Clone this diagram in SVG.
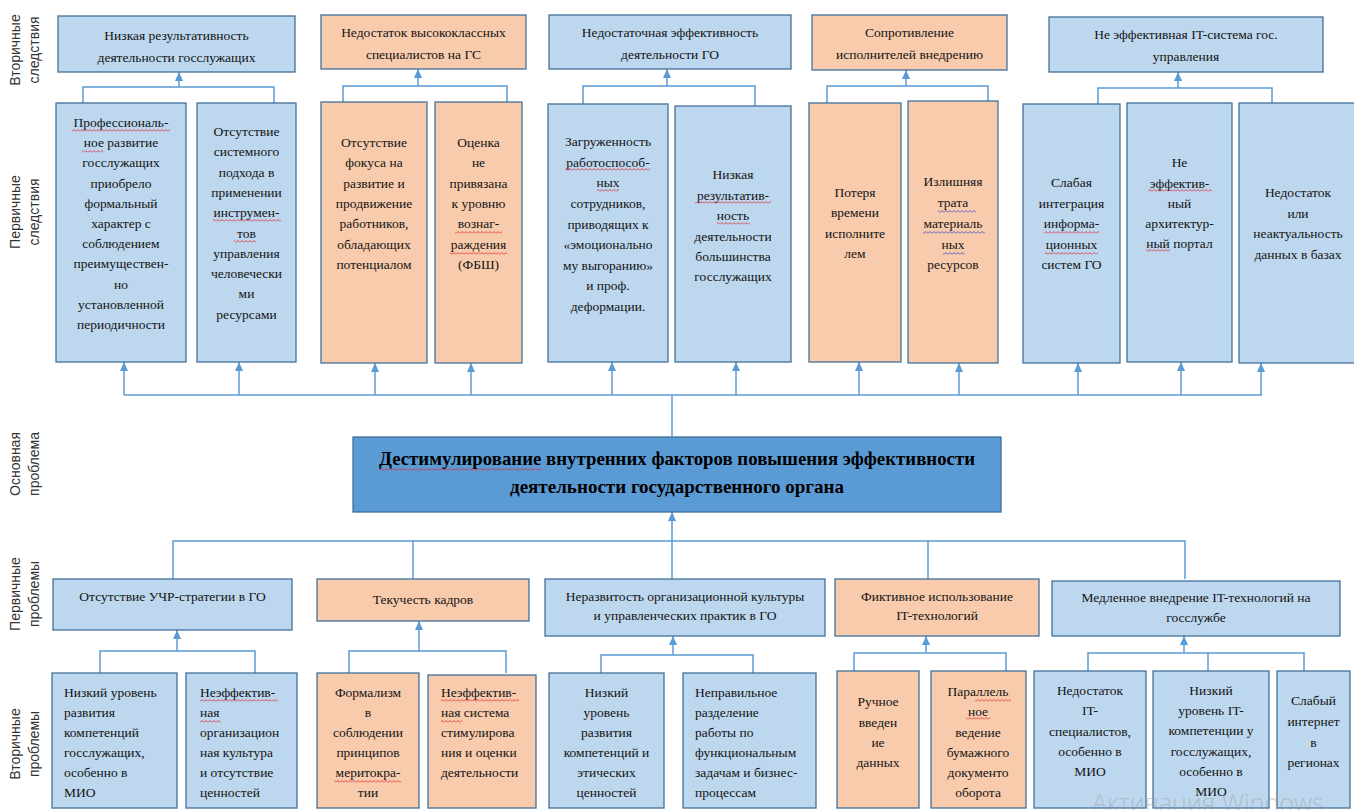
<svg xmlns="http://www.w3.org/2000/svg" width="1354" height="810" viewBox="0 0 1354 810">
<style>
.b{fill:#BDD7EE;stroke:#41719C;stroke-width:1.3}
.o{fill:#F8CBAD;stroke:#41719C;stroke-width:1.3}
.m{fill:#5B9BD5;stroke:#41719C;stroke-width:1.3}
.t{font-family:"Liberation Serif","Times New Roman",serif;font-size:13.5px;fill:#141414;text-anchor:middle}
.l{text-anchor:start}
.mt{font-family:"Liberation Serif","Times New Roman",serif;font-size:19px;font-weight:bold;fill:#000;text-anchor:middle}
.lbl{font-family:"Liberation Sans",Arial,sans-serif;font-size:14px;fill:#333;text-anchor:middle}
.c{stroke:#5B9BD5;stroke-width:1.5;fill:none}
.a{stroke:#5B9BD5;stroke-width:1.5;fill:none;marker-end:url(#ah)}
.wr{fill:url(#wavr)}
.wb{fill:url(#wavb)}
.wm{font-family:"Open Sans","Liberation Sans",sans-serif;font-size:25px;font-weight:300;fill:#9a9a9a;fill-opacity:0.45}
</style>
<defs>
<marker id="ah" viewBox="0 0 10 10" refX="10" refY="5" markerWidth="10" markerHeight="9" markerUnits="userSpaceOnUse" orient="auto"><path d="M0,0.5 L10,5 L0,9.5 z" fill="#5B9BD5"/></marker>
<pattern id="wavr" width="4" height="3" patternUnits="userSpaceOnUse"><path d="M0,2.5 L2,0.5 L4,2.5" stroke="#E0202A" stroke-width="0.8" fill="none"/></pattern>
<pattern id="wavb" width="4" height="3" patternUnits="userSpaceOnUse"><path d="M0,2.5 L2,0.5 L4,2.5" stroke="#3040C8" stroke-width="0.8" fill="none"/></pattern>
</defs>
<rect width="1354" height="810" fill="#fff"/>

<g id="row-labels">
<text class="lbl" transform="translate(20,50) rotate(-90)">Вторичные</text>
<text class="lbl" transform="translate(39,50) rotate(-90)">следствия</text>
<text class="lbl" transform="translate(20,212) rotate(-90)">Первичные</text>
<text class="lbl" transform="translate(39,212) rotate(-90)">следствия</text>
<text class="lbl" transform="translate(20,464) rotate(-90)">Основная</text>
<text class="lbl" transform="translate(39,464) rotate(-90)">проблема</text>
<text class="lbl" transform="translate(20,594) rotate(-90)">Первичные</text>
<text class="lbl" transform="translate(39,594) rotate(-90)">проблемы</text>
<text class="lbl" transform="translate(20,744) rotate(-90)">Вторичные</text>
<text class="lbl" transform="translate(39,744) rotate(-90)">проблемы</text>
</g>

<g id="connectors">
<path class="c" d="M83,103 V87 H274 V103"/>
<path class="a" d="M179,87 V72"/>
<path class="c" d="M343,102 V86 H507 V102"/>
<path class="a" d="M418,86 V69"/>
<path class="c" d="M583,104 V86 H755 V106"/>
<path class="a" d="M667,86 V69"/>
<path class="c" d="M827,103 V86 H988 V101"/>
<path class="a" d="M906,86 V70"/>
<path class="c" d="M1098,104 V88 H1272 V103"/>
<path class="a" d="M1178,88 V72"/>
<path class="c" d="M124,395 H1262"/>
<path class="c" d="M672,437 V395"/>
<path class="a" d="M124,395 V362"/>
<path class="a" d="M239,395 V362"/>
<path class="a" d="M375,395 V363"/>
<path class="a" d="M471,395 V363"/>
<path class="a" d="M612,395 V362"/>
<path class="a" d="M736,395 V362"/>
<path class="a" d="M859,395 V362"/>
<path class="a" d="M959,395 V363"/>
<path class="a" d="M1078,395 V363"/>
<path class="a" d="M1181,395 V362"/>
<path class="a" d="M1261,395 V363"/>
<path class="c" d="M173,579 V541 H1185 V579"/>
<path class="c" d="M413,541 V579"/>
<path class="c" d="M928,541 V579"/>
<path class="c" d="M672,541 V579"/>
<path class="a" d="M672,541 V512"/>
<path class="c" d="M100,673 V651 H255 V673"/>
<path class="a" d="M177,651 V630"/>
<path class="c" d="M349,673 V651 H506 V673"/>
<path class="a" d="M419,651 V621"/>
<path class="c" d="M601,673 V655 H753 V673"/>
<path class="a" d="M673,655 V636"/>
<path class="c" d="M854,671 V653 H1006 V671"/>
<path class="a" d="M926,653 V636"/>
<path class="c" d="M1088,671 V653 H1304 V671"/>
<path class="c" d="M1208,653 V671"/>
<path class="a" d="M1184,653 V636"/>
</g>

<g id="sec-cons-1"><rect class="b" x="58" y="16" width="237" height="56"/>
<text class="t" x="176.5" y="40">Низкая результативность</text><text class="t" x="176.5" y="62">деятельности госслужащих</text></g>
<g id="sec-cons-2"><rect class="o" x="321" y="15" width="205" height="54"/>
<text class="t" x="423.5" y="37">Недостаток высококлассных</text><text class="t" x="423.5" y="59">специалистов на ГС</text></g>
<g id="sec-cons-3"><rect class="b" x="549" y="15" width="242" height="54"/>
<text class="t" x="670" y="37">Недостаточная эффективность</text><text class="t" x="670" y="59">деятельности ГО</text></g>
<g id="sec-cons-4"><rect class="o" x="812" y="15" width="195" height="55"/>
<text class="t" x="909.5" y="37">Сопротивление</text><text class="t" x="909.5" y="59">исполнителей внедрению</text></g>
<g id="sec-cons-5"><rect class="b" x="1049" y="17" width="274" height="55"/>
<text class="t" x="1186" y="39">Не эффективная IT-система гос.</text><text class="t" x="1186" y="61">управления</text></g>

<g id="pri-cons-1"><rect class="b" x="56" y="103" width="130" height="259"/>
<text class="t"><tspan x="121" y="127">Профессиональ-</tspan><tspan x="121" y="147">ное развитие</tspan><tspan x="121" y="167">госслужащих</tspan><tspan x="121" y="188">приобрело</tspan><tspan x="121" y="208">формальный</tspan><tspan x="121" y="228">характер с</tspan><tspan x="121" y="248">соблюдением</tspan><tspan x="121" y="268">преимуществен-</tspan><tspan x="121" y="289">но</tspan><tspan x="121" y="309">установленной</tspan><tspan x="121" y="329">периодичности</tspan></text>
<rect class="wr" x="72" y="129" width="98" height="3"/><rect class="wr" x="82" y="150" width="21" height="3"/></g>
<g id="pri-cons-2"><rect class="b" x="197" y="103" width="99" height="259"/>
<text class="t"><tspan x="246.5" y="136">Отсутствие</tspan><tspan x="246.5" y="156">системного</tspan><tspan x="246.5" y="177">подхода в</tspan><tspan x="246.5" y="197">применении</tspan><tspan x="246.5" y="217">инструмен-</tspan><tspan x="246.5" y="238">тов</tspan><tspan x="246.5" y="258">управления</tspan><tspan x="246.5" y="278">человечески</tspan><tspan x="246.5" y="298">ми</tspan><tspan x="246.5" y="319">ресурсами</tspan></text>
<rect class="wr" x="213" y="219" width="68" height="3"/><rect class="wr" x="234" y="240" width="22" height="3"/></g>
<g id="pri-cons-3"><rect class="o" x="321" y="102" width="106" height="261"/>
<text class="t"><tspan x="374" y="147">Отсутствие</tspan><tspan x="374" y="167">фокуса на</tspan><tspan x="374" y="188">развитие и</tspan><tspan x="374" y="208">продвижение</tspan><tspan x="374" y="228">работников,</tspan><tspan x="374" y="249">обладающих</tspan><tspan x="374" y="269">потенциалом</tspan></text></g>
<g id="pri-cons-4"><rect class="o" x="435" y="102" width="87" height="261"/>
<text class="t"><tspan x="478.5" y="147">Оценка</tspan><tspan x="478.5" y="167">не</tspan><tspan x="478.5" y="188">привязана</tspan><tspan x="478.5" y="208">к уровню</tspan><tspan x="478.5" y="228">вознаг-</tspan><tspan x="478.5" y="249">раждения</tspan><tspan x="478.5" y="269">(ФБШ)</tspan></text>
<rect class="wr" x="455" y="231" width="47" height="3"/><rect class="wr" x="450" y="252" width="57" height="3"/></g>
<g id="pri-cons-5"><rect class="b" x="548" y="104" width="120" height="258"/>
<text class="t"><tspan x="608" y="146">Загруженность</tspan><tspan x="608" y="167">работоспособ-</tspan><tspan x="608" y="187">ных</tspan><tspan x="608" y="208">сотрудников,</tspan><tspan x="608" y="229">приводящих к</tspan><tspan x="608" y="249">«эмоционально</tspan><tspan x="608" y="270">му выгоранию»</tspan><tspan x="608" y="290">и проф.</tspan><tspan x="608" y="311">деформации.</tspan></text>
<rect class="wr" x="565" y="168" width="85" height="3"/><rect class="wr" x="597" y="189" width="22" height="3"/></g>
<g id="pri-cons-6"><rect class="b" x="675" y="106" width="116" height="256"/>
<text class="t"><tspan x="733" y="179">Низкая</tspan><tspan x="733" y="200">результатив-</tspan><tspan x="733" y="220">ность</tspan><tspan x="733" y="241">деятельности</tspan><tspan x="733" y="261">большинства</tspan><tspan x="733" y="281">госслужащих</tspan></text>
<rect class="wr" x="695" y="201" width="76" height="3"/><rect class="wr" x="717" y="222" width="33" height="3"/></g>
<g id="pri-cons-7"><rect class="o" x="809" y="103" width="92" height="259"/>
<text class="t"><tspan x="855" y="197">Потеря</tspan><tspan x="855" y="217">времени</tspan><tspan x="855" y="238">исполните</tspan><tspan x="855" y="258">лем</tspan></text></g>
<g id="pri-cons-8"><rect class="o" x="908" y="101" width="90" height="262"/>
<text class="t"><tspan x="953" y="186">Излишняя</tspan><tspan x="953" y="207">трата</tspan><tspan x="953" y="228">материаль</tspan><tspan x="953" y="249">ных</tspan><tspan x="953" y="269">ресурсов</tspan></text>
<rect class="wb" x="938" y="210" width="38" height="3"/><rect class="wb" x="923" y="231" width="62" height="3"/><rect class="wb" x="943" y="252" width="22" height="3"/></g>
<g id="pri-cons-9"><rect class="b" x="1023" y="104" width="97" height="259"/>
<text class="t"><tspan x="1071.5" y="187">Слабая</tspan><tspan x="1071.5" y="208">интеграция</tspan><tspan x="1071.5" y="228">информа-</tspan><tspan x="1071.5" y="249">ционных</tspan><tspan x="1071.5" y="269">систем ГО</tspan></text>
<rect class="wr" x="1044" y="231" width="55" height="3"/><rect class="wr" x="1045" y="252" width="53" height="3"/></g>
<g id="pri-cons-10"><rect class="b" x="1127" y="103" width="105" height="259"/>
<text class="t"><tspan x="1179.5" y="167">Не</tspan><tspan x="1179.5" y="188">эффектив-</tspan><tspan x="1179.5" y="208">ный</tspan><tspan x="1179.5" y="228">архитектур-</tspan><tspan x="1179.5" y="248">ный портал</tspan></text>
<rect class="wr" x="1148" y="189" width="64" height="3"/><rect class="wr" x="1146" y="249" width="24" height="3"/></g>
<g id="pri-cons-11"><rect class="b" x="1239" y="103" width="121" height="260"/>
<text class="t"><tspan x="1298" y="197">Недостаток</tspan><tspan x="1298" y="218">или</tspan><tspan x="1298" y="238">неактуальность</tspan><tspan x="1298" y="259">данных в базах</tspan></text></g>

<g id="main-problem"><rect class="m" x="353" y="437" width="648" height="75"/>
<text class="mt" x="677" y="465" textLength="596" lengthAdjust="spacingAndGlyphs">Дестимулирование внутренних факторов повышения эффективности</text>
<text class="mt" x="677" y="493" textLength="334" lengthAdjust="spacingAndGlyphs">деятельности государственного органа</text>
<rect class="wr" x="379" y="468" width="163" height="3"/></g>

<g id="pri-prob-1"><rect class="b" x="53" y="579" width="239" height="51"/>
<text class="t" x="172.5" y="601">Отсутствие УЧР-стратегии в ГО</text></g>
<g id="pri-prob-2"><rect class="o" x="317" y="579" width="212" height="42"/>
<text class="t" x="423" y="604">Текучесть кадров</text></g>
<g id="pri-prob-3"><rect class="b" x="545" y="579" width="280" height="57"/>
<text class="t" x="685" y="601">Неразвитость организационной культуры</text><text class="t" x="685" y="620">и управленческих практик в ГО</text></g>
<g id="pri-prob-4"><rect class="o" x="835" y="579" width="204" height="57"/>
<text class="t" x="937" y="601">Фиктивное использование</text><text class="t" x="937" y="620">IT-технологий</text></g>
<g id="pri-prob-5"><rect class="b" x="1052" y="581" width="288" height="55"/>
<text class="t" x="1196" y="602">Медленное внедрение IT-технологий на</text><text class="t" x="1196" y="622">госслужбе</text></g>

<g id="sec-prob-1"><rect class="b" x="52" y="673" width="125" height="135"/>
<text class="t l"><tspan x="64" y="697">Низкий уровень</tspan><tspan x="64" y="717">развития</tspan><tspan x="64" y="737">компетенций</tspan><tspan x="64" y="757">госслужащих,</tspan><tspan x="64" y="777">особенно в</tspan><tspan x="64" y="797">МИО</tspan></text></g>
<g id="sec-prob-2"><rect class="b" x="186" y="673" width="111" height="135"/>
<text class="t l"><tspan x="200" y="697">Неэффектив-</tspan><tspan x="200" y="717">ная</tspan><tspan x="200" y="737">организацион</tspan><tspan x="200" y="757">ная культура</tspan><tspan x="200" y="777">и отсутствие</tspan><tspan x="200" y="797">ценностей</tspan></text>
<rect class="wr" x="200" y="699" width="78" height="3"/><rect class="wr" x="200" y="720" width="21" height="3"/></g>
<g id="sec-prob-3"><rect class="o" x="317" y="673" width="102" height="135"/>
<text class="t"><tspan x="368" y="697">Формализм</tspan><tspan x="368" y="717">в</tspan><tspan x="368" y="737">соблюдении</tspan><tspan x="368" y="757">принципов</tspan><tspan x="368" y="777">меритокра-</tspan><tspan x="368" y="797">тии</tspan></text>
<rect class="wr" x="334" y="780" width="67" height="3"/></g>
<g id="sec-prob-4"><rect class="o" x="428" y="675" width="108" height="133"/>
<text class="t l"><tspan x="441" y="697">Неэффектив-</tspan><tspan x="441" y="717">ная система</tspan><tspan x="441" y="737">стимулирова</tspan><tspan x="441" y="757">ния и оценки</tspan><tspan x="441" y="777">деятельности</tspan></text>
<rect class="wr" x="441" y="699" width="78" height="3"/><rect class="wr" x="441" y="720" width="21" height="3"/></g>
<g id="sec-prob-5"><rect class="b" x="549" y="673" width="115" height="135"/>
<text class="t"><tspan x="606.5" y="697">Низкий</tspan><tspan x="606.5" y="717">уровень</tspan><tspan x="606.5" y="737">развития</tspan><tspan x="606.5" y="757">компетенций и</tspan><tspan x="606.5" y="777">этических</tspan><tspan x="606.5" y="797">ценностей</tspan></text></g>
<g id="sec-prob-6"><rect class="b" x="683" y="673" width="133" height="135"/>
<text class="t l"><tspan x="695" y="697">Неправильное</tspan><tspan x="695" y="717">разделение</tspan><tspan x="695" y="737">работы по</tspan><tspan x="695" y="757">функциональным</tspan><tspan x="695" y="777">задачам и бизнес-</tspan><tspan x="695" y="797">процессам</tspan></text></g>
<g id="sec-prob-7"><rect class="o" x="837" y="671" width="82" height="137"/>
<text class="t"><tspan x="878" y="706">Ручное</tspan><tspan x="878" y="727">введен</tspan><tspan x="878" y="747">ие</tspan><tspan x="878" y="767">данных</tspan></text></g>
<g id="sec-prob-8"><rect class="o" x="931" y="671" width="95" height="137"/>
<text class="t"><tspan x="978" y="696">Параллель</tspan><tspan x="978" y="716">ное</tspan><tspan x="978" y="737">ведение</tspan><tspan x="978" y="757">бумажного</tspan><tspan x="978" y="777">документо</tspan><tspan x="978" y="797">оборота</tspan></text>
<rect class="wr" x="975" y="699" width="36" height="3"/><rect class="wr" x="966" y="717" width="24" height="3"/></g>
<g id="sec-prob-9"><rect class="b" x="1034" y="671" width="112" height="137"/>
<text class="t"><tspan x="1090" y="695">Недостаток</tspan><tspan x="1090" y="715">IT-</tspan><tspan x="1090" y="736">специалистов,</tspan><tspan x="1090" y="756">особенно в</tspan><tspan x="1090" y="776">МИО</tspan></text></g>
<g id="sec-prob-10"><rect class="b" x="1153" y="671" width="116" height="137"/>
<text class="t"><tspan x="1211" y="695">Низкий</tspan><tspan x="1211" y="715">уровень IT-</tspan><tspan x="1211" y="735">компетенции у</tspan><tspan x="1211" y="756">госслужащих,</tspan><tspan x="1211" y="776">особенно в</tspan><tspan x="1211" y="796">МИО</tspan></text></g>
<g id="sec-prob-11"><rect class="b" x="1277" y="671" width="73" height="137"/>
<text class="t"><tspan x="1313.5" y="705">Слабый</tspan><tspan x="1313.5" y="726">интернет</tspan><tspan x="1313.5" y="747">в</tspan><tspan x="1313.5" y="767">регионах</tspan></text></g>

<text class="wm" x="1092" y="812">Активация Windows</text>
</svg>
